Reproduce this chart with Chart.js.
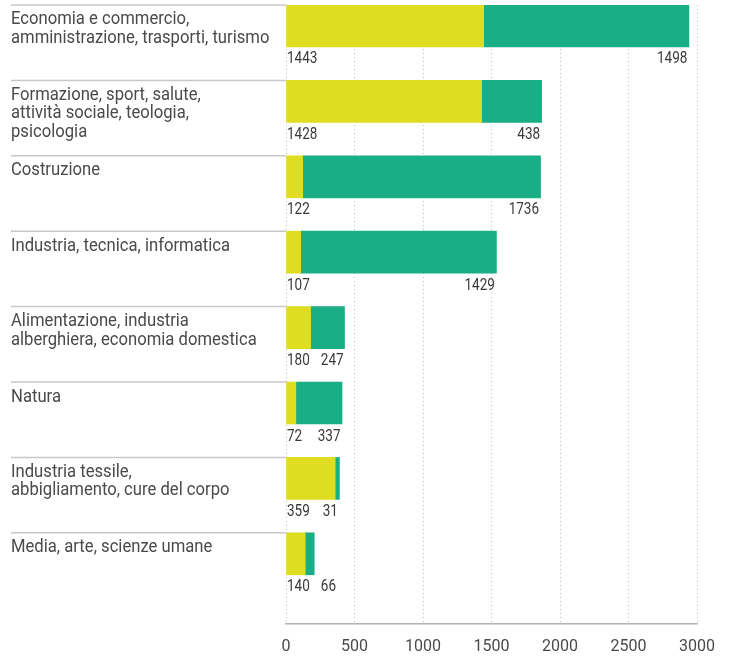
<!DOCTYPE html>
<html>
<head>
<meta charset="utf-8">
<script src="https://cdn.jsdelivr.net/npm/chart.js@4"></script>
<style>
    html, body { margin: 0; padding: 0; background: #fff; }
    #wrap { width: 729px; height: 656px; position: relative; }
</style>
</head>
<body>
<div id="wrap"><canvas id="chart"></canvas></div>
<script>
const categories = [
    ['Economia e commercio,', 'amministrazione, trasporti, turismo'],
    ['Formazione, sport, salute,', 'attività sociale, teologia,', 'psicologia'],
    ['Costruzione'],
    ['Industria, tecnica, informatica'],
    ['Alimentazione, industria', 'alberghiera, economia domestica'],
    ['Natura'],
    ['Industria tessile,', 'abbigliamento, cure del corpo'],
    ['Media, arte, scienze umane']
];
const yellowValues = [1443, 1428, 122, 107, 180, 72, 359, 140];
const greenValues = [1498, 438, 1736, 1429, 247, 337, 31, 66];
const xTicks = [0, 500, 1000, 1500, 2000, 2500, 3000];

const FONT = 'Roboto, "Liberation Sans", sans-serif';
const YELLOW = '#dfdd1f';
const GREEN = '#1aae86';
const BAR_H = 42;
const Y_MIN = -0.2785;
const Y_MAX = 7.931;
const VAL_SX = 0.82;

// narrow text: the original font is a condensed grotesque
function narrowText(ctx, text, x, y, sx, align) {
    ctx.save();
    ctx.translate(x, y);
    ctx.scale(sx, 1);
    ctx.textAlign = align;
    ctx.fillText(text, 0, 0);
    ctx.restore();
}

// labels, separators and value labels
const labelPlugin = {
    id: 'labelPlugin',
    afterDatasetsDraw(chart) {
        const ctx = chart.ctx;
        const xs = chart.scales.x;
        const ys = chart.scales.y;
        ctx.save();
        categories.forEach((lines, i) => {
            const top = ys.getPixelForValue(i) - BAR_H / 2;
            const x0 = xs.getPixelForValue(0);

            ctx.strokeStyle = '#c8c8c8';
            ctx.lineWidth = 1.5;
            ctx.beginPath();
            ctx.moveTo(11, top);
            ctx.lineTo(x0, top);
            ctx.stroke();

            ctx.fillStyle = '#4a4a4a';
            ctx.font = '18px ' + FONT;
            ctx.textBaseline = 'alphabetic';
            lines.forEach((line, j) => {
                narrowText(ctx, line, 11, top + 19.5 + j * 18.5, 0.925, 'left');
            });

            ctx.fillStyle = '#3a3a3a';
            ctx.font = '16.5px ' + FONT;
            const valY = top + BAR_H + 16.5;
            const yText = String(yellowValues[i]);
            const gText = String(greenValues[i]);
            narrowText(ctx, yText, x0 + 1, valY, VAL_SX, 'left');
            // green value sits at the bar end, pushed right if it hits the yellow one
            const yRight = x0 + 1 + ctx.measureText(yText).width * VAL_SX;
            const gW = ctx.measureText(gText).width * VAL_SX;
            const end = xs.getPixelForValue(yellowValues[i] + greenValues[i]);
            const gLeft = Math.max(end - 1.5 - gW, yRight + 11);
            narrowText(ctx, gText, gLeft, valY, VAL_SX, 'left');
        });
        ctx.restore();
    }
};

new Chart(document.getElementById('chart').getContext('2d'), {
    type: 'bar',
    data: {
        datasets: [
            {
                label: 'yellow',
                data: yellowValues.map((v, i) => ({ x: v, y: i })),
                backgroundColor: YELLOW,
                barThickness: BAR_H,
                borderWidth: 0
            },
            {
                label: 'green',
                data: greenValues.map((v, i) => ({ x: v, y: i })),
                backgroundColor: GREEN,
                barThickness: BAR_H,
                borderWidth: 0
            }
        ]
    },
    options: {
        indexAxis: 'y',
        responsive: true,
        maintainAspectRatio: false,
        animation: false,
        layout: {
            padding: { left: 286, right: 32, top: 5, bottom: 0 }
        },
        scales: {
            x: {
                type: 'linear',
                stacked: true,
                min: 0,
                max: 3000,
                afterBuildTicks: function(scale) {
                    scale.ticks = xTicks.map(v => ({ value: v }));
                },
                afterFit: function(scale) {
                    scale.height = 32;
                },
                grid: {
                    color: '#bdbdbd',
                    lineWidth: 1,
                    drawTicks: false
                },
                border: {
                    color: '#b3b3b3',
                    width: 1.5,
                    dash: [1, 3]
                },
                ticks: {
                    color: '#4a4a4a',
                    padding: 13,
                    maxRotation: 0,
                    font: { family: FONT, size: 16 },
                    callback: function(value) {
                        return String(value);
                    }
                }
            },
            y: {
                type: 'linear',
                stacked: true,
                reverse: true,
                offset: false,
                grid: { offset: false },
                bounds: 'data',
                min: Y_MIN,
                max: Y_MAX,
                afterBuildTicks: function(scale) {
                    scale.min = Y_MIN;
                    scale.max = Y_MAX;
                },
                display: false
            }
        },
        plugins: {
            legend: { display: false },
            tooltip: { enabled: false }
        }
    },
    plugins: [labelPlugin]
});
</script>
</body>
</html>
